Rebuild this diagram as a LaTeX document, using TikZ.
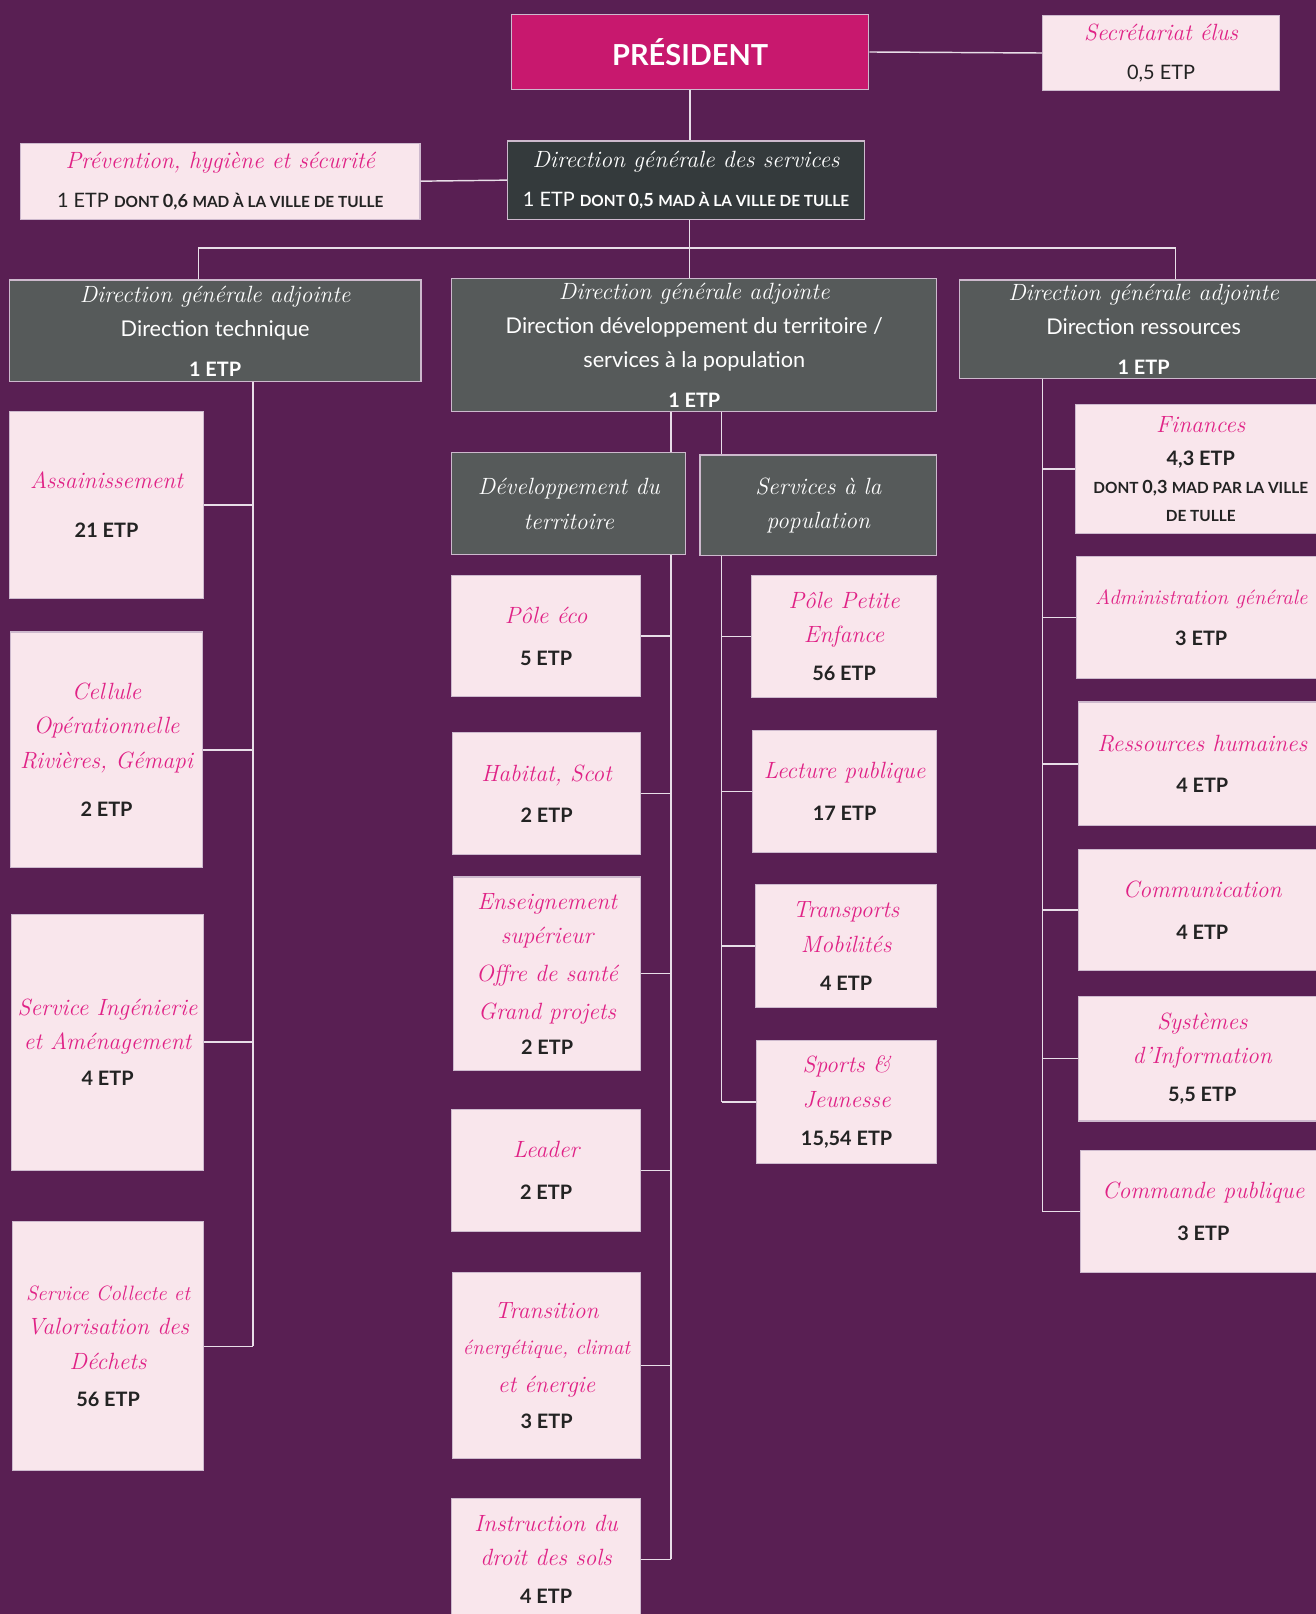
\documentclass[tikz,border=0pt]{standalone}
\usepackage{fontspec}
\newfontfamily\sansfont{Lato}

\definecolor{bgpurple}{RGB}{89,31,83}
\definecolor{presmagenta}{RGB}{200,24,110}
\definecolor{lightpink}{RGB}{249,230,236}
\definecolor{dgsgray}{RGB}{52,58,60}
\definecolor{dgagray}{RGB}{86,90,90}
\definecolor{pinktext}{RGB}{224,34,134}
\definecolor{darktext}{RGB}{35,35,35}
\definecolor{linecol}{RGB}{232,222,232}
\definecolor{boxline}{RGB}{205,185,205}

\newcommand{\etp}[1]{{\sansfont\upshape\fontsize{11}{13}\selectfont#1}}
\newcommand{\etpb}[1]{{\sansfont\upshape\bfseries\fontsize{11}{13}\selectfont#1}}
\newcommand{\etpd}[1]{{\color{darktext}\sansfont\upshape\bfseries\fontsize{11}{13}\selectfont#1}}
\newcommand{\subt}[1]{{\sansfont\upshape\fontsize{12}{16}\selectfont#1}}
\newcommand{\mad}[1]{{\sansfont\upshape\bfseries\fontsize{8.5}{12}\selectfont#1}}
\newcommand{\smaller}[1]{{\fontsize{11.5}{19}\selectfont#1}}

\tikzset{
  span/.style args={#1/#2/#3/#4}{minimum width={(#3-#1)*0.02cm}, minimum height={(#4-#2)*0.02cm},
    at={({(#1+#3)/2},{(#2+#4)/2})}},
  cell/.style={inner sep=0pt, align=center, draw=boxline, line width=0.6pt,
    font=\fontsize{13}{19}\selectfont\itshape},
  pinkbox/.style={cell, fill=lightpink, text=pinktext},
  darkbox/.style={cell, fill=dgsgray, text=white},
  graybox/.style={cell, fill=dgagray, text=white},
  presbox/.style={cell, fill=presmagenta, text=white, font=\sansfont\bfseries\fontsize{16}{20}\selectfont},
  conn/.style={draw=linecol, line width=0.8pt}
}

\begin{document}
\begin{tikzpicture}[x=0.02cm, y=-0.02cm]
    \useasboundingbox (0,0) rectangle (1278,1568);
    \fill[bgpurple] (0,0) rectangle (1278,1568);

    \node[presbox, span=497/14/844/87] (pres) {PRÉSIDENT};
    \node[pinkbox, span=1013/15/1243/88] (secr) {Secrétariat élus\\[3pt]\color{darktext}\etp{0,5 ETP}};
    \node[pinkbox, span=20/139/408/213] (prev) {Prévention, hygiène et sécurité\\[3pt]{\color{darktext}\etp{1 ETP \mad{DONT \fontsize{10}{12}\selectfont 0,6 \fontsize{8.5}{12}\selectfont MAD À LA VILLE DE TULLE}}}};
    \node[darkbox, span=493/137/840/213] (dgs) {Direction générale des services\\[3pt]\etp{1 ETP \mad{DONT \fontsize{10}{12}\selectfont 0,5 \fontsize{8.5}{12}\selectfont MAD À LA VILLE DE TULLE}}};

    \node[graybox, span=9/272/409/371] (dga1) {Direction générale adjointe\\\subt{Direction technique}\\[3pt]\etpb{1 ETP}};
    \node[graybox, span=439/271/910/400] (dga2) {Direction générale adjointe\\\subt{Direction développement du territoire /}\\\subt{services à la population}\\[3pt]\etpb{1 ETP}};
    \node[graybox, span=932/272/1290/368] (dga3) {Direction générale adjointe\\\subt{Direction ressources}\\[3pt]\etpb{1 ETP}};

    \node[graybox, span=439/440/666/539] (devt) {Développement du\\territoire};
    \node[graybox, span=680/442/910/540] (serv) {Services à la\\population};

    \node[pinkbox, span=9/400/198/581] (assain) {Assainissement\\[8pt]\etpd{21 ETP}};
    \node[pinkbox, span=10/614/197/843] (cellule) {Cellule\\Opérationnelle\\Rivières, Gémapi\\[8pt]\etpd{2 ETP}};
    \node[pinkbox, span=11/888/198/1137] (inge) {Service Ingénierie\\et Aménagement\\[1pt]\etpd{4 ETP}};
    \node[pinkbox, span=12/1187/198/1429] (collecte) {\smaller{Service Collecte et}\\Valorisation des\\Déchets\\[2pt]\etpd{56 ETP}};

    \node[pinkbox, span=439/559/622/677] (poleeco) {Pôle éco\\[4pt]\etpd{5 ETP}};
    \node[pinkbox, span=440/712/622/830] (habitat) {Habitat, Scot\\[4pt]\etpd{2 ETP}};
    \node[pinkbox, span=441/852/622/1040] (enseign) {Enseignement\\supérieur\\[2pt]Offre de santé\\[2pt]Grand projets\\\etpd{2 ETP}};
    \node[pinkbox, span=439/1078/622/1196] (leader) {Leader\\[4pt]\etpd{2 ETP}};
    \node[pinkbox, span=440/1236/622/1417] (transit) {Transition\\[1pt]\smaller{énergétique, climat}\\[2pt]et énergie\\[1pt]\etpd{3 ETP}};
    \node[pinkbox, span=439/1456/622/1574] (instr) {Instruction du\\droit des sols\\[2pt]\etpd{4 ETP}};

    \node[pinkbox, span=730/559/910/678] (ppe) {Pôle Petite\\Enfance\\[2pt]\etpd{56 ETP}};
    \node[pinkbox, span=731/710/910/828] (lecture) {Lecture publique\\[4pt]\etpd{17 ETP}};
    \node[pinkbox, span=734/859/910/979] (transp) {Transports\\Mobilités\\[2pt]\etpd{4 ETP}};
    \node[pinkbox, span=735/1011/910/1130] (sports) {Sports \&\\Jeunesse\\[2pt]\etpd{15,54 ETP}};

    \node[pinkbox, span=1045/393/1288/518] (finances) {Finances\\[-1pt]\etpd{4,3 ETP}\\[-3pt]{\color{darktext}\mad{DONT \fontsize{10}{12}\selectfont 0,3 \fontsize{8.5}{12}\selectfont MAD PAR LA VILLE}}\\[-4pt]{\color{darktext}\mad{DE TULLE}}};
    \node[pinkbox, span=1046/541/1288/659] (admin) {\smaller{Administration générale}\\[4pt]\etpd{3 ETP}};
    \node[pinkbox, span=1048/682/1288/802] (rh) {Ressources humaines\\[4pt]\etpd{4 ETP}};
    \node[pinkbox, span=1048/825/1288/943] (comm) {Communication\\[4pt]\etpd{4 ETP}};
    \node[pinkbox, span=1048/968/1288/1089] (sysinfo) {Systèmes\\d'Information\\[2pt]\etpd{5,5 ETP}};
    \node[pinkbox, span=1050/1118/1288/1236] (commande) {Commande publique\\[4pt]\etpd{3 ETP}};

    \coordinate (hub) at (670,241);
    \coordinate (hubL) at (193,241);
    \coordinate (hubR) at (1142,241);
    \coordinate (tL) at (246,0);
    \coordinate (tM1) at (652,0);
    \coordinate (tM2) at (701,0);
    \coordinate (tR) at (1013,0);

    \draw[conn] (pres.east) -- (secr.west);
    \draw[conn] (pres.south) -- (pres.south |- dgs.north);
    \draw[conn] (prev.east) -- (dgs.west);
    \draw[conn] (hub |- dgs.south) -- (hub);
    \draw[conn] (hubL |- dga1.north) -- (hubL) -- (hubR) -- (hubR |- dga3.north);
    \draw[conn] (hub) -- (hub |- dga2.north);

    \draw[conn] (tL |- dga1.south) -- (tL |- collecte.east);
    \foreach \n in {assain, cellule, inge, collecte}
        \draw[conn] (\n.east) -- (\n.east -| tL);

    \draw[conn] (tM1 |- dga2.south) -- (tM1 |- devt.north);
    \draw[conn] (tM1 |- devt.south) -- (tM1 |- instr.east);
    \foreach \n in {poleeco, habitat, enseign, leader, transit, instr}
        \draw[conn] (\n.east) -- (\n.east -| tM1);

    \draw[conn] (tM2 |- dga2.south) -- (tM2 |- serv.north);
    \draw[conn] (tM2 |- serv.south) -- (tM2 |- sports.west);
    \foreach \n in {ppe, lecture, transp, sports}
        \draw[conn] (\n.west) -- (\n.west -| tM2);

    \draw[conn] (tR |- dga3.south) -- (tR |- commande.west);
    \foreach \n in {finances, admin, rh, comm, sysinfo, commande}
        \draw[conn] (\n.west) -- (\n.west -| tR);
\end{tikzpicture}
\end{document}
